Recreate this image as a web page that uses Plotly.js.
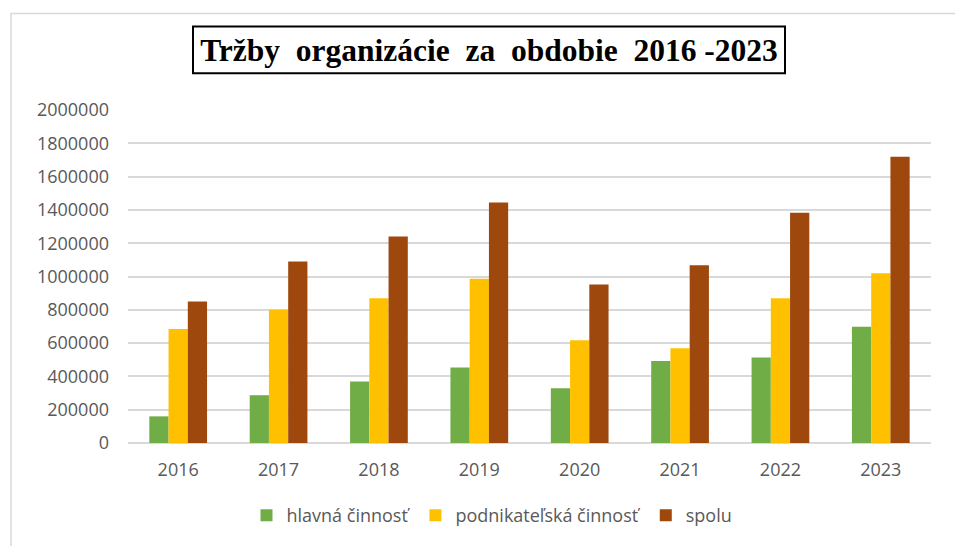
<!DOCTYPE html>
<html>
<head>
<meta charset="utf-8">
<script src="https://cdn.plot.ly/plotly-3.0.1.min.js"></script>
<style>html,body{margin:0;padding:0;background:#fff;}#chart{width:955px;height:546px;}</style>
</head>
<body>
<div id="chart"></div>
<script>
const years = ['2016', '2017', '2018', '2019', '2020', '2021', '2022', '2023'];
const hlavna = [160000, 287000, 369000, 453000, 329000, 493000, 513000, 698000];
const podnikatelska = [684000, 800000, 870000, 986000, 617000, 569000, 870000, 1020000];
const spolu = [850000, 1090000, 1240000, 1445000, 952000, 1068000, 1383000, 1719000];
const seriesNames = ['hlavná činnosť', 'podnikateľská činnosť', 'spolu'];
const seriesColors = ['#70AD47', '#FFC000', '#9E480E'];
const yTicks = [0, 200000, 400000, 600000, 800000, 1000000, 1200000, 1400000, 1600000, 1800000, 2000000];
const titleText = '<b>Tržby  organizácie  za  obdobie  2016 -2023</b>';

const W = 955, H = 546;
const L = 128, R = 24, T = 110, B = 101;
const pw = W - L - R, ph = H - T - B;
const px = x => (x - L) / pw;
const py = y => (H - B - y) / ph;

const textFont = {family: 'Open Sans, sans-serif', size: 18, color: '#595959'};

const traces = [hlavna, podnikatelska, spolu].map((vals, i) => ({
  type: 'bar',
  name: seriesNames[i],
  x: years,
  y: vals,
  marker: {color: seriesColors[i], line: {width: 0}},
  hoverinfo: 'x+y+name'
}));

const layout = {
  width: W, height: H,
  margin: {l: L, r: R, t: T, b: B, pad: 0},
  paper_bgcolor: '#ffffff',
  plot_bgcolor: '#ffffff',
  barmode: 'group',
  bargap: 0.425,
  bargroupgap: 0,
  title: {
    text: titleText,
    font: {family: 'Liberation Serif, Times New Roman, serif', size: 31.5, color: '#000000'},
    x: 489 / W, xref: 'container', xanchor: 'center',
    y: 1 - 50 / H, yref: 'container', yanchor: 'middle'
  },
  xaxis: {
    type: 'category',
    tickfont: textFont,
    showgrid: false,
    showline: false,
    ticks: '',
    zeroline: false,
    ticklabelstandoff: 14,
    fixedrange: true
  },
  yaxis: {
    range: [0, 2000000],
    tickvals: yTicks,
    ticktext: yTicks.map(v => String(v)),
    tickfont: textFont,
    showgrid: true,
    gridcolor: '#D9D9D9',
    gridwidth: 1.5,
    zeroline: true,
    zerolinecolor: '#D9D9D9',
    zerolinewidth: 1.5,
    showline: false,
    ticks: '',
    ticklabelstandoff: 18,
    fixedrange: true
  },
  showlegend: true,
  legend: {
    orientation: 'h',
    x: px(492), xanchor: 'center',
    y: py(518), yanchor: 'middle',
    font: textFont,
    bgcolor: 'rgba(0,0,0,0)',
    traceorder: 'normal',
    itemclick: false
  },
  shapes: [
    {type: 'rect', xref: 'paper', yref: 'paper',
     x0: px(11), x1: px(990), y0: py(560), y1: py(13),
     line: {color: '#D9D9D9', width: 1.5}, fillcolor: 'rgba(0,0,0,0)', layer: 'below'},
    {type: 'rect', xref: 'paper', yref: 'paper',
     x0: px(193), x1: px(785), y0: py(73), y1: py(26),
     line: {color: '#000000', width: 2}, fillcolor: 'rgba(0,0,0,0)'}
  ]
};

Plotly.newPlot('chart', traces, layout, {displayModeBar: false, staticPlot: false});
</script>
</body>
</html>
